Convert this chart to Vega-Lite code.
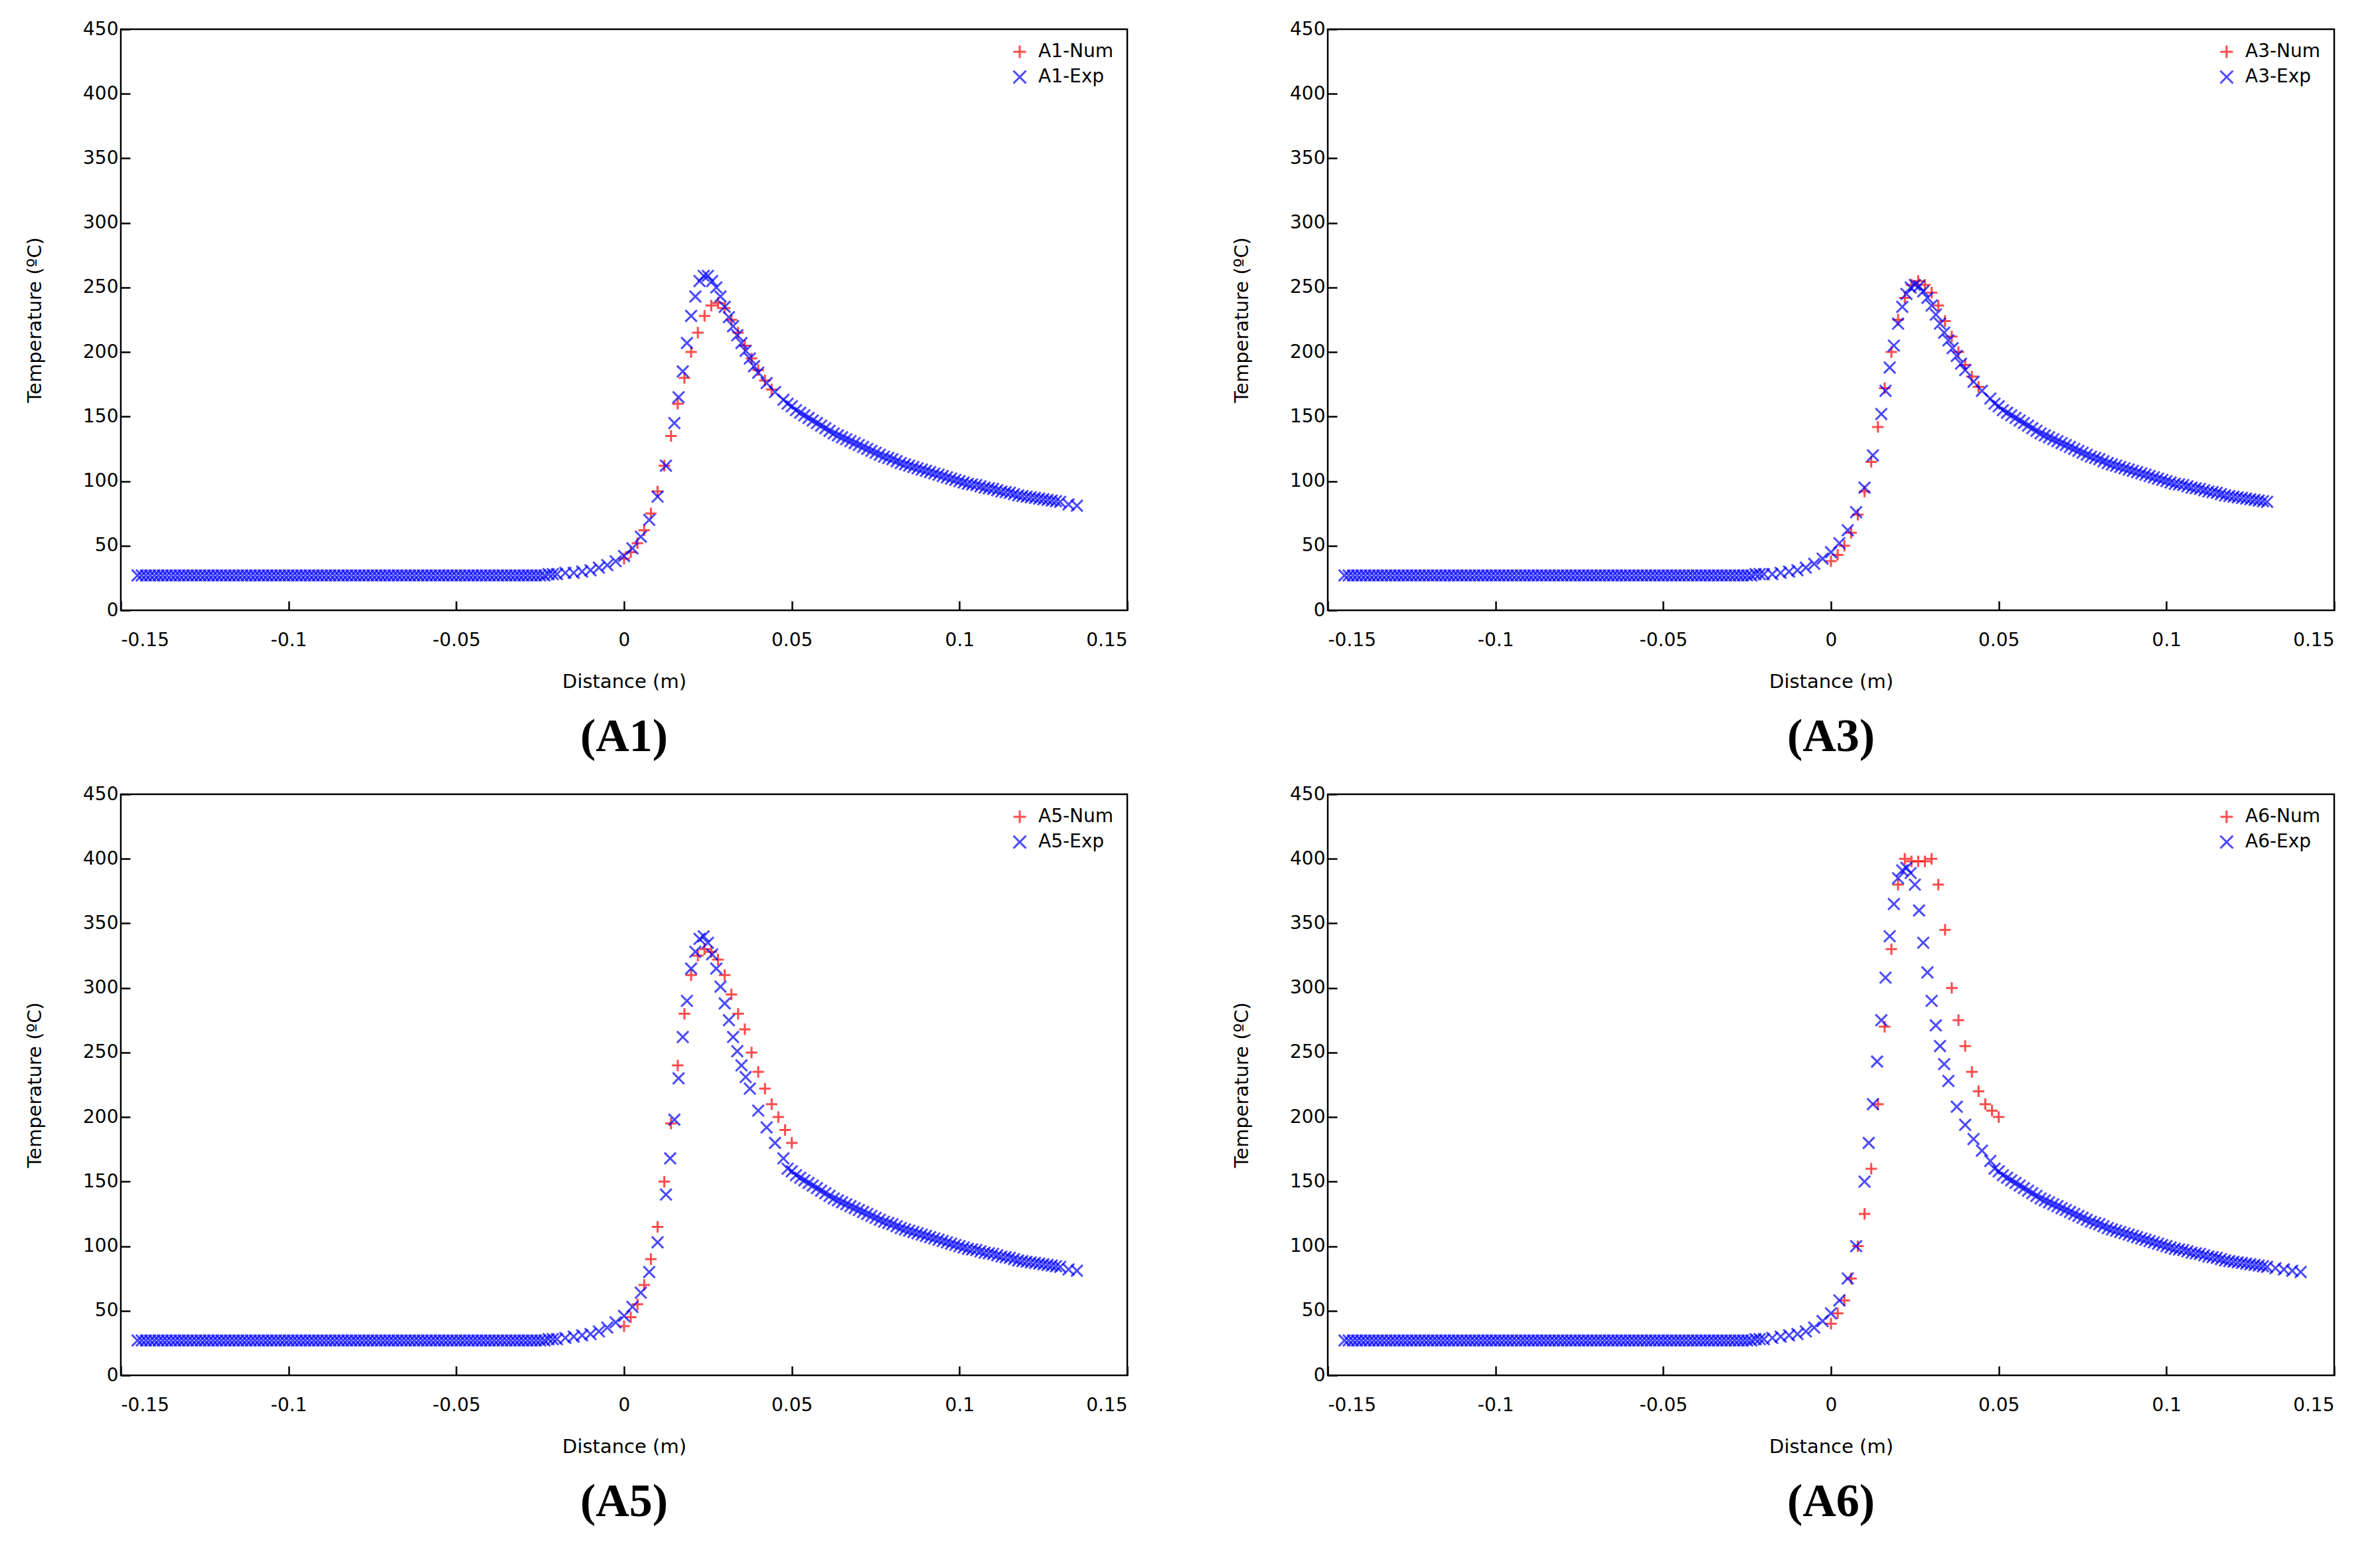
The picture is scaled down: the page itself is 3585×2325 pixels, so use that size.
{
  "$schema": "https://vega.github.io/schema/vega-lite/v6.json",
  "background": "white",
  "padding": {"left": 37, "top": 28, "right": 10, "bottom": 5},
  "config": {
    "font": "DejaVu Sans",
    "view": {"stroke": "black", "strokeWidth": 2.5},
    "axis": {"labelFont": "DejaVu Sans", "labelFontSize": 28, "titleFont": "DejaVu Sans", "titleFontSize": 29, "titleFontWeight": "normal", "labelColor": "black", "titleColor": "black", "grid": false, "domain": false, "tickSize": -14, "tickWidth": 2.5, "tickColor": "black", "labelPadding": 18},
    "axisX": {"labelPadding": 45, "titlePadding": 34},
    "axisY": {"titlePadding": 57},
    "legend": {"orient": "top-right", "offset": 20, "labelFont": "DejaVu Sans", "labelFontSize": 28, "title": null, "symbolSize": 360, "symbolStrokeWidth": 3, "rowPadding": 6, "labelOffset": 14},
    "title": {"orient": "bottom", "font": "Liberation Serif", "fontSize": 70, "fontWeight": "bold", "offset": 35, "color": "black"}
  },
  "datasets": {
    "flat": [
      {"x":-0.145,"y":27},{"x":-0.1425,"y":27},{"x":-0.14,"y":27},{"x":-0.1375,"y":27},{"x":-0.135,"y":27},{"x":-0.1325,"y":27},{"x":-0.13,"y":27},{"x":-0.1275,"y":27},{"x":-0.125,"y":27},{"x":-0.1225,"y":27},
      {"x":-0.12,"y":27},{"x":-0.1175,"y":27},{"x":-0.115,"y":27},{"x":-0.1125,"y":27},{"x":-0.11,"y":27},{"x":-0.1075,"y":27},{"x":-0.105,"y":27},{"x":-0.1025,"y":27},{"x":-0.1,"y":27},{"x":-0.0975,"y":27},
      {"x":-0.095,"y":27},{"x":-0.0925,"y":27},{"x":-0.09,"y":27},{"x":-0.0875,"y":27},{"x":-0.085,"y":27},{"x":-0.0825,"y":27},{"x":-0.08,"y":27},{"x":-0.0775,"y":27},{"x":-0.075,"y":27},{"x":-0.0725,"y":27},
      {"x":-0.07,"y":27},{"x":-0.0675,"y":27},{"x":-0.065,"y":27},{"x":-0.0625,"y":27},{"x":-0.06,"y":27},{"x":-0.0575,"y":27},{"x":-0.055,"y":27},{"x":-0.0525,"y":27},{"x":-0.05,"y":27},{"x":-0.0475,"y":27},
      {"x":-0.045,"y":27},{"x":-0.0425,"y":27},{"x":-0.04,"y":27},{"x":-0.0375,"y":27},{"x":-0.035,"y":27},{"x":-0.0325,"y":27},{"x":-0.03,"y":27},{"x":-0.0275,"y":27},{"x":-0.025,"y":27},{"x":-0.0225,"y":28},
      {"x":-0.14375,"y":27},{"x":-0.14125,"y":27},{"x":-0.13875,"y":27},{"x":-0.13625,"y":27},{"x":-0.13375,"y":27},{"x":-0.13125,"y":27},{"x":-0.12875,"y":27},{"x":-0.12625,"y":27},{"x":-0.12375,"y":27},{"x":-0.12125,"y":27},
      {"x":-0.11875,"y":27},{"x":-0.11625,"y":27},{"x":-0.11375,"y":27},{"x":-0.11125,"y":27},{"x":-0.10875,"y":27},{"x":-0.10625,"y":27},{"x":-0.10375,"y":27},{"x":-0.10125,"y":27},{"x":-0.09875,"y":27},{"x":-0.09625,"y":27},
      {"x":-0.09375,"y":27},{"x":-0.09125,"y":27},{"x":-0.08875,"y":27},{"x":-0.08625,"y":27},{"x":-0.08375,"y":27},{"x":-0.08125,"y":27},{"x":-0.07875,"y":27},{"x":-0.07625,"y":27},{"x":-0.07375,"y":27},{"x":-0.07125,"y":27},
      {"x":-0.06875,"y":27},{"x":-0.06625,"y":27},{"x":-0.06375,"y":27},{"x":-0.06125,"y":27},{"x":-0.05875,"y":27},{"x":-0.05625,"y":27},{"x":-0.05375,"y":27},{"x":-0.05125,"y":27},{"x":-0.04875,"y":27},{"x":-0.04625,"y":27},
      {"x":-0.04375,"y":27},{"x":-0.04125,"y":27},{"x":-0.03875,"y":27},{"x":-0.03625,"y":27},{"x":-0.03375,"y":27},{"x":-0.03125,"y":27},{"x":-0.02875,"y":27},{"x":-0.02625,"y":27},{"x":-0.02375,"y":27},{"x":-0.02125,"y":28}
    ],
    "tail": [
      {"x":0.05,"y":158},{"x":0.0525,"y":153},{"x":0.055,"y":149},{"x":0.0575,"y":145},{"x":0.06,"y":141},{"x":0.0625,"y":137},{"x":0.065,"y":134},{"x":0.0675,"y":131},{"x":0.07,"y":128},{"x":0.0725,"y":125},
      {"x":0.075,"y":122},{"x":0.0775,"y":119},{"x":0.08,"y":117},{"x":0.0825,"y":114},{"x":0.085,"y":112},{"x":0.0875,"y":110},{"x":0.09,"y":108},{"x":0.0925,"y":106},{"x":0.095,"y":104},{"x":0.0975,"y":102},
      {"x":0.1,"y":100},{"x":0.1025,"y":98},{"x":0.105,"y":97},{"x":0.1075,"y":95},{"x":0.11,"y":94},{"x":0.1125,"y":92},{"x":0.115,"y":91},{"x":0.1175,"y":89},{"x":0.12,"y":88},{"x":0.1225,"y":87},
      {"x":0.125,"y":86},{"x":0.1275,"y":85},{"x":0.13,"y":84},
      {"x":0.04875,"y":160},{"x":0.05125,"y":155},{"x":0.05375,"y":151},{"x":0.05625,"y":147},{"x":0.05875,"y":143},{"x":0.06125,"y":139},{"x":0.06375,"y":135.5},{"x":0.06625,"y":132.5},{"x":0.06875,"y":129.5},{"x":0.07125,"y":126.5},
      {"x":0.07375,"y":123.5},{"x":0.07625,"y":120.5},{"x":0.07875,"y":118},{"x":0.08125,"y":115.5},{"x":0.08375,"y":113},{"x":0.08625,"y":111},{"x":0.08875,"y":109},{"x":0.09125,"y":107},{"x":0.09375,"y":105},{"x":0.09625,"y":103},
      {"x":0.09875,"y":101},{"x":0.10125,"y":99},{"x":0.10375,"y":97.5},{"x":0.10625,"y":96},{"x":0.10875,"y":94.5},{"x":0.11125,"y":93},{"x":0.11375,"y":91.5},{"x":0.11625,"y":90},{"x":0.11875,"y":88.5},{"x":0.12125,"y":87.5},
      {"x":0.12375,"y":86.5},{"x":0.12625,"y":85.5},{"x":0.12875,"y":84.5}
    ],
    "A1e": [
      {"x":-0.02,"y":28},{"x":-0.0175,"y":29},{"x":-0.015,"y":29},{"x":-0.0125,"y":30},{"x":-0.01,"y":31},{"x":-0.0075,"y":33},{"x":-0.005,"y":35},{"x":-0.0025,"y":38},{"x":0,"y":42},{"x":0.0025,"y":48},
      {"x":0.005,"y":57},{"x":0.0075,"y":70},{"x":0.01,"y":88},{"x":0.0125,"y":112},{"x":0.015,"y":145},{"x":0.0175,"y":185},{"x":0.02,"y":228},{"x":0.0225,"y":255},{"x":0.025,"y":259},{"x":0.0275,"y":250},
      {"x":0.03,"y":235},{"x":0.0325,"y":220},{"x":0.035,"y":207},{"x":0.0375,"y":195},{"x":0.04,"y":184},{"x":0.0425,"y":176},{"x":0.045,"y":169},{"x":0.0475,"y":163},{"x":0.1325,"y":82},{"x":0.135,"y":81},
      {"x":0.01625,"y":165},{"x":0.01875,"y":207},{"x":0.02125,"y":243},{"x":0.02375,"y":259},{"x":0.02625,"y":255},{"x":0.02875,"y":243},{"x":0.03125,"y":227},{"x":0.03375,"y":213},{"x":0.03625,"y":201},{"x":0.03875,"y":189}
    ],
    "A1n": [
      {"x":0,"y":40},{"x":0.002,"y":45},{"x":0.004,"y":52},{"x":0.006,"y":62},{"x":0.008,"y":75},{"x":0.01,"y":92},{"x":0.012,"y":112},{"x":0.014,"y":135},{"x":0.016,"y":160},{"x":0.018,"y":180},
      {"x":0.02,"y":200},{"x":0.022,"y":215},{"x":0.024,"y":228},{"x":0.026,"y":236},{"x":0.028,"y":238},{"x":0.03,"y":234},{"x":0.032,"y":225},{"x":0.034,"y":215},{"x":0.036,"y":205},{"x":0.038,"y":195},
      {"x":0.04,"y":186},{"x":0.042,"y":178},{"x":0.044,"y":171}
    ],
    "A3e": [
      {"x":-0.02,"y":28},{"x":-0.0175,"y":28},{"x":-0.015,"y":29},{"x":-0.0125,"y":30},{"x":-0.01,"y":31},{"x":-0.0075,"y":33},{"x":-0.005,"y":36},{"x":-0.0025,"y":40},{"x":0,"y":45},{"x":0.0025,"y":52},
      {"x":0.005,"y":62},{"x":0.0075,"y":76},{"x":0.01,"y":95},{"x":0.0125,"y":120},{"x":0.015,"y":152},{"x":0.0175,"y":188},{"x":0.02,"y":222},{"x":0.0225,"y":245},{"x":0.025,"y":252},{"x":0.0275,"y":247},
      {"x":0.03,"y":236},{"x":0.0325,"y":222},{"x":0.035,"y":209},{"x":0.0375,"y":197},{"x":0.04,"y":186},{"x":0.0425,"y":177},{"x":0.045,"y":170},{"x":0.0475,"y":164},
      {"x":0.01625,"y":170},{"x":0.01875,"y":205},{"x":0.02125,"y":235},{"x":0.02375,"y":250},{"x":0.02625,"y":251},{"x":0.02875,"y":242},{"x":0.03125,"y":229},{"x":0.03375,"y":215},{"x":0.03625,"y":203},{"x":0.03875,"y":191}
    ],
    "A3n": [
      {"x":0,"y":38},{"x":0.002,"y":43},{"x":0.004,"y":50},{"x":0.006,"y":60},{"x":0.008,"y":74},{"x":0.01,"y":92},{"x":0.012,"y":115},{"x":0.014,"y":142},{"x":0.016,"y":172},{"x":0.018,"y":200},
      {"x":0.02,"y":225},{"x":0.022,"y":242},{"x":0.024,"y":252},{"x":0.026,"y":255},{"x":0.028,"y":252},{"x":0.03,"y":246},{"x":0.032,"y":236},{"x":0.034,"y":224},{"x":0.036,"y":212},{"x":0.038,"y":200},
      {"x":0.04,"y":190},{"x":0.042,"y":181},{"x":0.044,"y":173}
    ],
    "A5e": [
      {"x":-0.02,"y":28},{"x":-0.0175,"y":29},{"x":-0.015,"y":30},{"x":-0.0125,"y":31},{"x":-0.01,"y":32},{"x":-0.0075,"y":34},{"x":-0.005,"y":37},{"x":-0.0025,"y":41},{"x":0,"y":46},{"x":0.0025,"y":53},
      {"x":0.005,"y":64},{"x":0.0075,"y":80},{"x":0.01,"y":103},{"x":0.0125,"y":140},{"x":0.015,"y":198},{"x":0.0175,"y":262},{"x":0.02,"y":315},{"x":0.0225,"y":338},{"x":0.025,"y":335},{"x":0.0275,"y":315},
      {"x":0.03,"y":288},{"x":0.0325,"y":262},{"x":0.035,"y":240},{"x":0.0375,"y":222},{"x":0.04,"y":205},{"x":0.0425,"y":192},{"x":0.045,"y":180},{"x":0.0475,"y":168},{"x":0.1325,"y":82},{"x":0.135,"y":81},
      {"x":0.01375,"y":168},{"x":0.01625,"y":230},{"x":0.01875,"y":290},{"x":0.02125,"y":328},{"x":0.02375,"y":340},{"x":0.02625,"y":326},{"x":0.02875,"y":301},{"x":0.03125,"y":275},{"x":0.03375,"y":251},{"x":0.03625,"y":231}
    ],
    "A5n": [
      {"x":0,"y":38},{"x":0.002,"y":45},{"x":0.004,"y":55},{"x":0.006,"y":70},{"x":0.008,"y":90},{"x":0.01,"y":115},{"x":0.012,"y":150},{"x":0.014,"y":195},{"x":0.016,"y":240},{"x":0.018,"y":280},
      {"x":0.02,"y":310},{"x":0.022,"y":325},{"x":0.024,"y":330},{"x":0.026,"y":328},{"x":0.028,"y":322},{"x":0.03,"y":310},{"x":0.032,"y":295},{"x":0.034,"y":280},{"x":0.036,"y":268},{"x":0.038,"y":250},
      {"x":0.04,"y":235},{"x":0.042,"y":222},{"x":0.044,"y":210},{"x":0.046,"y":200},{"x":0.048,"y":190},{"x":0.05,"y":180}
    ],
    "A6e": [
      {"x":-0.02,"y":28},{"x":-0.0175,"y":29},{"x":-0.015,"y":30},{"x":-0.0125,"y":31},{"x":-0.01,"y":32},{"x":-0.0075,"y":34},{"x":-0.005,"y":37},{"x":-0.0025,"y":42},{"x":0,"y":48},{"x":0.0025,"y":58},
      {"x":0.005,"y":75},{"x":0.0075,"y":100},{"x":0.01,"y":150},{"x":0.0125,"y":210},{"x":0.015,"y":275},{"x":0.0175,"y":340},{"x":0.02,"y":385},{"x":0.0225,"y":393},{"x":0.025,"y":380},{"x":0.0275,"y":335},
      {"x":0.03,"y":290},{"x":0.0325,"y":255},{"x":0.035,"y":228},{"x":0.0375,"y":208},{"x":0.04,"y":194},{"x":0.0425,"y":183},{"x":0.045,"y":174},{"x":0.0475,"y":166},
      {"x":0.1325,"y":83},{"x":0.135,"y":82},{"x":0.1375,"y":81},{"x":0.14,"y":80},
      {"x":0.01125,"y":180},{"x":0.01375,"y":243},{"x":0.01625,"y":308},{"x":0.01875,"y":365},{"x":0.02125,"y":391},{"x":0.02375,"y":389},{"x":0.02625,"y":360},{"x":0.02875,"y":312},{"x":0.03125,"y":271},{"x":0.03375,"y":241}
    ],
    "A6n": [
      {"x":0,"y":40},{"x":0.002,"y":48},{"x":0.004,"y":58},{"x":0.006,"y":75},{"x":0.008,"y":100},{"x":0.01,"y":125},{"x":0.012,"y":160},{"x":0.014,"y":210},{"x":0.016,"y":270},{"x":0.018,"y":330},
      {"x":0.02,"y":380},{"x":0.022,"y":400},{"x":0.024,"y":398},{"x":0.026,"y":398},{"x":0.028,"y":398},{"x":0.03,"y":400},{"x":0.032,"y":380},{"x":0.034,"y":345},{"x":0.036,"y":300},{"x":0.038,"y":275},
      {"x":0.04,"y":255},{"x":0.042,"y":235},{"x":0.044,"y":220},{"x":0.046,"y":210},{"x":0.048,"y":205},{"x":0.05,"y":200}
    ]
  },
  "resolve": {"scale": {"color": "independent", "shape": "independent"}, "legend": {"color": "independent", "shape": "independent"}},
  "spacing": 33,
  "vconcat": [
    {
      "resolve": {"scale": {"color": "independent", "shape": "independent"}, "legend": {"color": "independent", "shape": "independent"}},
      "spacing": 154,
      "hconcat": [
        {
          "title": "(A1)", "width": 1516, "height": 875,
          "encoding": {
            "x": {"field": "x", "type": "quantitative", "scale": {"domain": [-0.15, 0.15]}, "axis": {"values": [-0.15,-0.1,-0.05,0,0.05,0.1,0.15], "labelExpr": "toString(datum.value)", "title": "Distance (m)"}},
            "y": {"field": "y", "type": "quantitative", "scale": {"domain": [0, 450]}, "axis": {"values": [0,50,100,150,200,250,300,350,400,450], "title": "Temperature (ºC)"}}
          },
          "layer": [
            {"data": {"name": "A1n"}, "mark": {"type": "point", "filled": false, "strokeWidth": 3, "size": 300}, "encoding": {"color": {"datum": "A1-Num", "scale": {"domain": ["A1-Num","A1-Exp"], "range": ["#ff0000","#0000ff"]}}, "shape": {"datum": "A1-Num", "scale": {"domain": ["A1-Num","A1-Exp"], "range": ["M-1,0H1M0,-1V1","M-1,-1L1,1M-1,1L1,-1"]}}}},
            {"data": {"name": "flat"}, "mark": {"type": "point", "filled": false, "strokeWidth": 3, "size": 300}, "encoding": {"color": {"datum": "A1-Exp"}, "shape": {"datum": "A1-Exp"}}},
            {"data": {"name": "A1e"}, "mark": {"type": "point", "filled": false, "strokeWidth": 3, "size": 300}, "encoding": {"color": {"datum": "A1-Exp"}, "shape": {"datum": "A1-Exp"}}},
            {"data": {"name": "tail"}, "mark": {"type": "point", "filled": false, "strokeWidth": 3, "size": 300}, "encoding": {"color": {"datum": "A1-Exp"}, "shape": {"datum": "A1-Exp"}}}
          ]
        },
        {
          "title": "(A3)", "width": 1516, "height": 875,
          "encoding": {
            "x": {"field": "x", "type": "quantitative", "scale": {"domain": [-0.15, 0.15]}, "axis": {"values": [-0.15,-0.1,-0.05,0,0.05,0.1,0.15], "labelExpr": "toString(datum.value)", "title": "Distance (m)"}},
            "y": {"field": "y", "type": "quantitative", "scale": {"domain": [0, 450]}, "axis": {"values": [0,50,100,150,200,250,300,350,400,450], "title": "Temperature (ºC)"}}
          },
          "layer": [
            {"data": {"name": "A3n"}, "mark": {"type": "point", "filled": false, "strokeWidth": 3, "size": 300}, "encoding": {"color": {"datum": "A3-Num", "scale": {"domain": ["A3-Num","A3-Exp"], "range": ["#ff0000","#0000ff"]}}, "shape": {"datum": "A3-Num", "scale": {"domain": ["A3-Num","A3-Exp"], "range": ["M-1,0H1M0,-1V1","M-1,-1L1,1M-1,1L1,-1"]}}}},
            {"data": {"name": "flat"}, "mark": {"type": "point", "filled": false, "strokeWidth": 3, "size": 300}, "encoding": {"color": {"datum": "A3-Exp"}, "shape": {"datum": "A3-Exp"}}},
            {"data": {"name": "A3e"}, "mark": {"type": "point", "filled": false, "strokeWidth": 3, "size": 300}, "encoding": {"color": {"datum": "A3-Exp"}, "shape": {"datum": "A3-Exp"}}},
            {"data": {"name": "tail"}, "mark": {"type": "point", "filled": false, "strokeWidth": 3, "size": 300}, "encoding": {"color": {"datum": "A3-Exp"}, "shape": {"datum": "A3-Exp"}}}
          ]
        }
      ]
    },
    {
      "resolve": {"scale": {"color": "independent", "shape": "independent"}, "legend": {"color": "independent", "shape": "independent"}},
      "spacing": 154,
      "hconcat": [
        {
          "title": "(A5)", "width": 1516, "height": 875,
          "encoding": {
            "x": {"field": "x", "type": "quantitative", "scale": {"domain": [-0.15, 0.15]}, "axis": {"values": [-0.15,-0.1,-0.05,0,0.05,0.1,0.15], "labelExpr": "toString(datum.value)", "title": "Distance (m)"}},
            "y": {"field": "y", "type": "quantitative", "scale": {"domain": [0, 450]}, "axis": {"values": [0,50,100,150,200,250,300,350,400,450], "title": "Temperature (ºC)"}}
          },
          "layer": [
            {"data": {"name": "A5n"}, "mark": {"type": "point", "filled": false, "strokeWidth": 3, "size": 300}, "encoding": {"color": {"datum": "A5-Num", "scale": {"domain": ["A5-Num","A5-Exp"], "range": ["#ff0000","#0000ff"]}}, "shape": {"datum": "A5-Num", "scale": {"domain": ["A5-Num","A5-Exp"], "range": ["M-1,0H1M0,-1V1","M-1,-1L1,1M-1,1L1,-1"]}}}},
            {"data": {"name": "flat"}, "mark": {"type": "point", "filled": false, "strokeWidth": 3, "size": 300}, "encoding": {"color": {"datum": "A5-Exp"}, "shape": {"datum": "A5-Exp"}}},
            {"data": {"name": "A5e"}, "mark": {"type": "point", "filled": false, "strokeWidth": 3, "size": 300}, "encoding": {"color": {"datum": "A5-Exp"}, "shape": {"datum": "A5-Exp"}}},
            {"data": {"name": "tail"}, "mark": {"type": "point", "filled": false, "strokeWidth": 3, "size": 300}, "encoding": {"color": {"datum": "A5-Exp"}, "shape": {"datum": "A5-Exp"}}}
          ]
        },
        {
          "title": "(A6)", "width": 1516, "height": 875,
          "encoding": {
            "x": {"field": "x", "type": "quantitative", "scale": {"domain": [-0.15, 0.15]}, "axis": {"values": [-0.15,-0.1,-0.05,0,0.05,0.1,0.15], "labelExpr": "toString(datum.value)", "title": "Distance (m)"}},
            "y": {"field": "y", "type": "quantitative", "scale": {"domain": [0, 450]}, "axis": {"values": [0,50,100,150,200,250,300,350,400,450], "title": "Temperature (ºC)"}}
          },
          "layer": [
            {"data": {"name": "A6n"}, "mark": {"type": "point", "filled": false, "strokeWidth": 3, "size": 300}, "encoding": {"color": {"datum": "A6-Num", "scale": {"domain": ["A6-Num","A6-Exp"], "range": ["#ff0000","#0000ff"]}}, "shape": {"datum": "A6-Num", "scale": {"domain": ["A6-Num","A6-Exp"], "range": ["M-1,0H1M0,-1V1","M-1,-1L1,1M-1,1L1,-1"]}}}},
            {"data": {"name": "flat"}, "mark": {"type": "point", "filled": false, "strokeWidth": 3, "size": 300}, "encoding": {"color": {"datum": "A6-Exp"}, "shape": {"datum": "A6-Exp"}}},
            {"data": {"name": "A6e"}, "mark": {"type": "point", "filled": false, "strokeWidth": 3, "size": 300}, "encoding": {"color": {"datum": "A6-Exp"}, "shape": {"datum": "A6-Exp"}}},
            {"data": {"name": "tail"}, "mark": {"type": "point", "filled": false, "strokeWidth": 3, "size": 300}, "encoding": {"color": {"datum": "A6-Exp"}, "shape": {"datum": "A6-Exp"}}}
          ]
        }
      ]
    }
  ]
}
